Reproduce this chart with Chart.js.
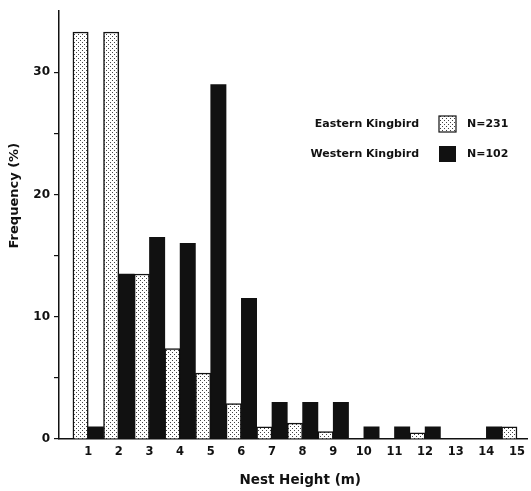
<!DOCTYPE html>
<html>
<head>
<meta charset="utf-8">
<script src="https://cdn.jsdelivr.net/npm/chart.js@4/dist/chart.umd.min.js"></script>
<style>
  html, body { margin: 0; padding: 0; background: #fff; }
  #wrap { width: 531px; height: 491px; }
</style>
</head>
<body>
<div id="wrap"><canvas id="nestChart"></canvas></div>
<script>
const heights = [1, 2, 3, 4, 5, 6, 7, 8, 9, 10, 11, 12, 13, 14, 15];
const eastern = [33.3, 33.3, 13.5, 7.4, 5.4, 2.9, 1.0, 1.3, 0.6, 0, 0, 0.5, 0, 0, 1.0];
const western = [1.0, 13.5, 16.5, 16.0, 29.0, 11.5, 3.0, 3.0, 3.0, 1.0, 1.0, 1.0, 0, 1.0, 0];
const seriesNames = ['Eastern Kingbird', 'Western Kingbird'];
const sampleSizes = ['N=231', 'N=102'];
const yTicks = [0, 5, 10, 15, 20, 25, 30];

const ink = '#111';
const fontFamily = '"DejaVu Sans", sans-serif';
const pad = n => '\u00a0'.repeat(n);

// stippled fill for the eastern bars
function makeStipple() {
  const c = document.createElement('canvas');
  c.width = 4; c.height = 4;
  const g = c.getContext('2d');
  g.fillStyle = '#fff';
  g.fillRect(0, 0, 4, 4);
  g.fillStyle = '#444';
  g.fillRect(0, 0, 1, 1);
  g.fillRect(2, 2, 1, 1);
  return g.createPattern(c, 'repeat');
}
const stipple = makeStipple();

const sideLegend = {
  id: 'sideLegend',
  afterDraw(chart) {
    const ctx = chart.ctx;
    const rows = [124, 154];
    ctx.save();
    ctx.font = 'bold 11px ' + fontFamily;
    ctx.textBaseline = 'middle';
    chart.data.datasets.forEach((ds, i) => {
      const y = rows[i];
      ctx.fillStyle = ink;
      ctx.textAlign = 'right';
      ctx.fillText(ds.label, 419, y);
      ctx.fillStyle = ds.backgroundColor;
      ctx.fillRect(439, y - 8, 17, 16);
      if (ds.borderWidth) {
        ctx.strokeStyle = ink;
        ctx.lineWidth = 1.2;
        ctx.strokeRect(439, y - 8, 17, 16);
      }
      ctx.fillStyle = ink;
      ctx.textAlign = 'left';
      ctx.fillText(sampleSizes[i], 467, y);
    });
    ctx.restore();
  }
};

new Chart(document.getElementById('nestChart'), {
  type: 'bar',
  data: {
    labels: heights,
    datasets: [
      {
        label: seriesNames[0],
        data: eastern,
        backgroundColor: stipple,
        borderColor: ink,
        borderWidth: 1.5,
        borderSkipped: 'start'
      },
      {
        label: seriesNames[1],
        data: western,
        backgroundColor: ink,
        borderWidth: 0
      }
    ]
  },
  options: {
    responsive: true,
    maintainAspectRatio: false,
    animation: false,
    layout: { padding: { top: 9, right: 0, left: 0, bottom: 0 } },
    datasets: { bar: { barPercentage: 1, categoryPercentage: 1 } },
    plugins: { legend: { display: false }, tooltip: { enabled: false } },
    scales: {
      x: {
        type: 'linear',
        offset: false,
        min: 0.046,
        max: 15.34,
        afterBuildTicks: s => { s.ticks = heights.map(v => ({ value: v })); },
        afterFit: s => { s.height = 52; },
        grid: { drawOnChartArea: false, drawTicks: false },
        border: { display: true, color: ink, width: 1.5 },
        ticks: { color: ink, font: { family: fontFamily, weight: 'bold', size: 11.5 }, padding: 6, autoSkip: false, maxRotation: 0 },
        title: { display: true, text: pad(3) + 'Nest Height (m)', color: ink, font: { family: fontFamily, weight: 'bold', size: 13.5 }, padding: { top: 0, bottom: 2 } }
      },
      y: {
        min: 0,
        max: 35,
        afterBuildTicks: s => { s.ticks = yTicks.map(v => ({ value: v })); },
        afterFit: s => { s.width = 59; },
        grid: { drawOnChartArea: false, drawTicks: true, tickLength: 5, color: ink, lineWidth: 1.2 },
        border: { display: true, color: ink, width: 1.5 },
        ticks: {
          color: ink,
          font: { family: fontFamily, weight: 'bold', size: 12 },
          padding: 4,
          callback: v => (v % 10 === 0 ? v : '')
        },
        title: { display: true, text: pad(13) + 'Frequency (%)', color: ink, font: { family: fontFamily, weight: 'bold', size: 13 }, padding: { top: 7, bottom: 0 } }
      }
    }
  },
  plugins: [sideLegend]
});
</script>
</body>
</html>
